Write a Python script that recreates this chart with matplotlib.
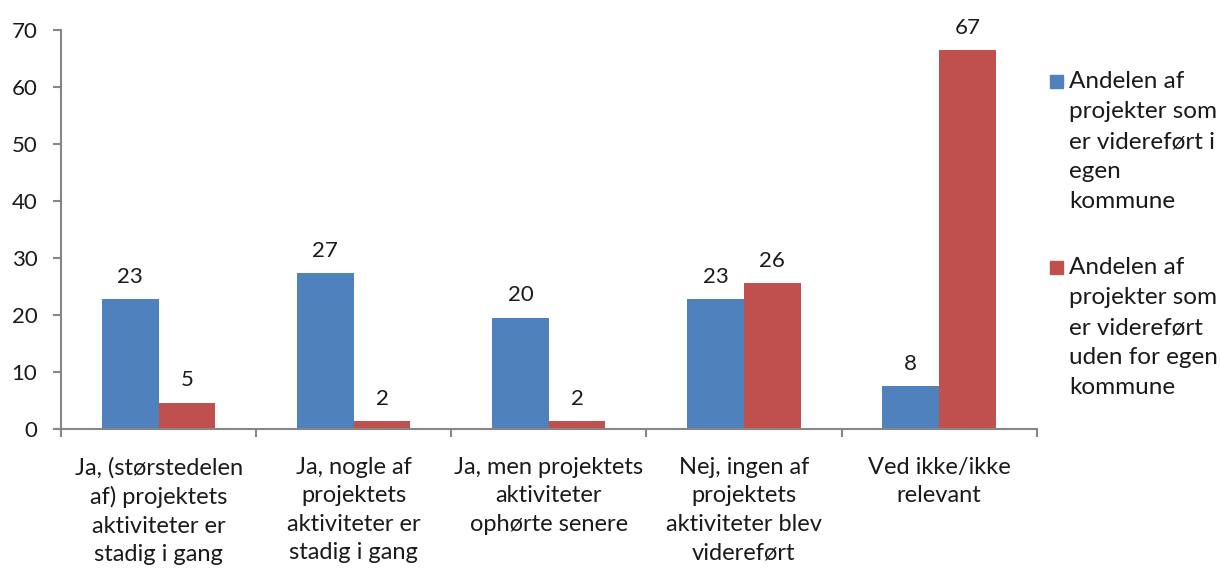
import numpy as np
import matplotlib.pyplot as plt
from matplotlib.patches import Rectangle

plt.rcParams['font.family'] = ['Lato', 'DejaVu Sans']

categories = ["Ja, (størstedelen\naf) projektets\naktiviteter er\nstadig i gang",
              "Ja, nogle af\nprojektets\naktiviteter er\nstadig i gang",
              "Ja, men projektets\naktiviteter\nophørte senere",
              "Nej, ingen af\nprojektets\naktiviteter blev\nvidereført",
              "Ved ikke/ikke\nrelevant"]
egen = [22.8, 27.3, 19.5, 22.8, 7.5]
uden = [4.6, 1.4, 1.4, 25.6, 66.5]
egen_lbl = ["23", "27", "20", "23", "8"]
uden_lbl = ["5", "2", "2", "26", "67"]
series_names = ["Andelen af\nprojekter som\ner videreført i\negen\nkommune",
                "Andelen af\nprojekter som\ner videreført\nuden for egen\nkommune"]
colors = ["#4F81BD", "#C0504D"]
gray = "#868686"
txt = "#1a1a1a"

fig = plt.figure(figsize=(12.21, 5.69), dpi=100)
ax = fig.add_axes([0.05, 0.246, 0.799, 0.701])

x = np.arange(len(categories))
w = 0.29
b1 = ax.bar(x - w/2, egen, w, color=colors[0])
b2 = ax.bar(x + w/2, uden, w, color=colors[1])
ax.bar_label(b1, labels=egen_lbl, padding=9, fontsize=16, color=txt)
ax.bar_label(b2, labels=uden_lbl, padding=9, fontsize=16, color=txt)

ax.set_xlim(-0.5, len(categories) - 0.5)
ax.set_ylim(0, 70)
ax.set_yticks(range(0, 71, 10))
ax.tick_params(axis='y', labelsize=16, length=6, width=1.5, color=gray,
               pad=11, labelcolor=txt)
ax.set_xticks(x)
ax.set_xticklabels(categories, fontsize=17, linespacing=1.44, color=txt)
ax.set_xticks(np.arange(-0.5, len(categories)), minor=True)
ax.tick_params(axis='x', which='major', length=0, pad=20)
ax.tick_params(axis='x', which='minor', length=6, width=1.5, color=gray)

for s in ['top', 'right']:
    ax.spines[s].set_visible(False)
for s in ['left', 'bottom']:
    ax.spines[s].set_color(gray)
    ax.spines[s].set_linewidth(1.5)

# legend drawn by hand so the marker sits on the first text line
W, H = 1221, 569
for name, c, ytop in zip(series_names, colors, [71, 257]):
    fig.patches.append(Rectangle((1050 / W, 1 - (ytop + 17) / H), 13 / W, 13 / H,
                                 transform=fig.transFigure, color=c))
    fig.text(1069 / W, 1 - ytop / H, name, fontsize=17.5, va='top', ha='left',
             linespacing=1.53, color=txt)

plt.savefig("out.png", dpi=100)
